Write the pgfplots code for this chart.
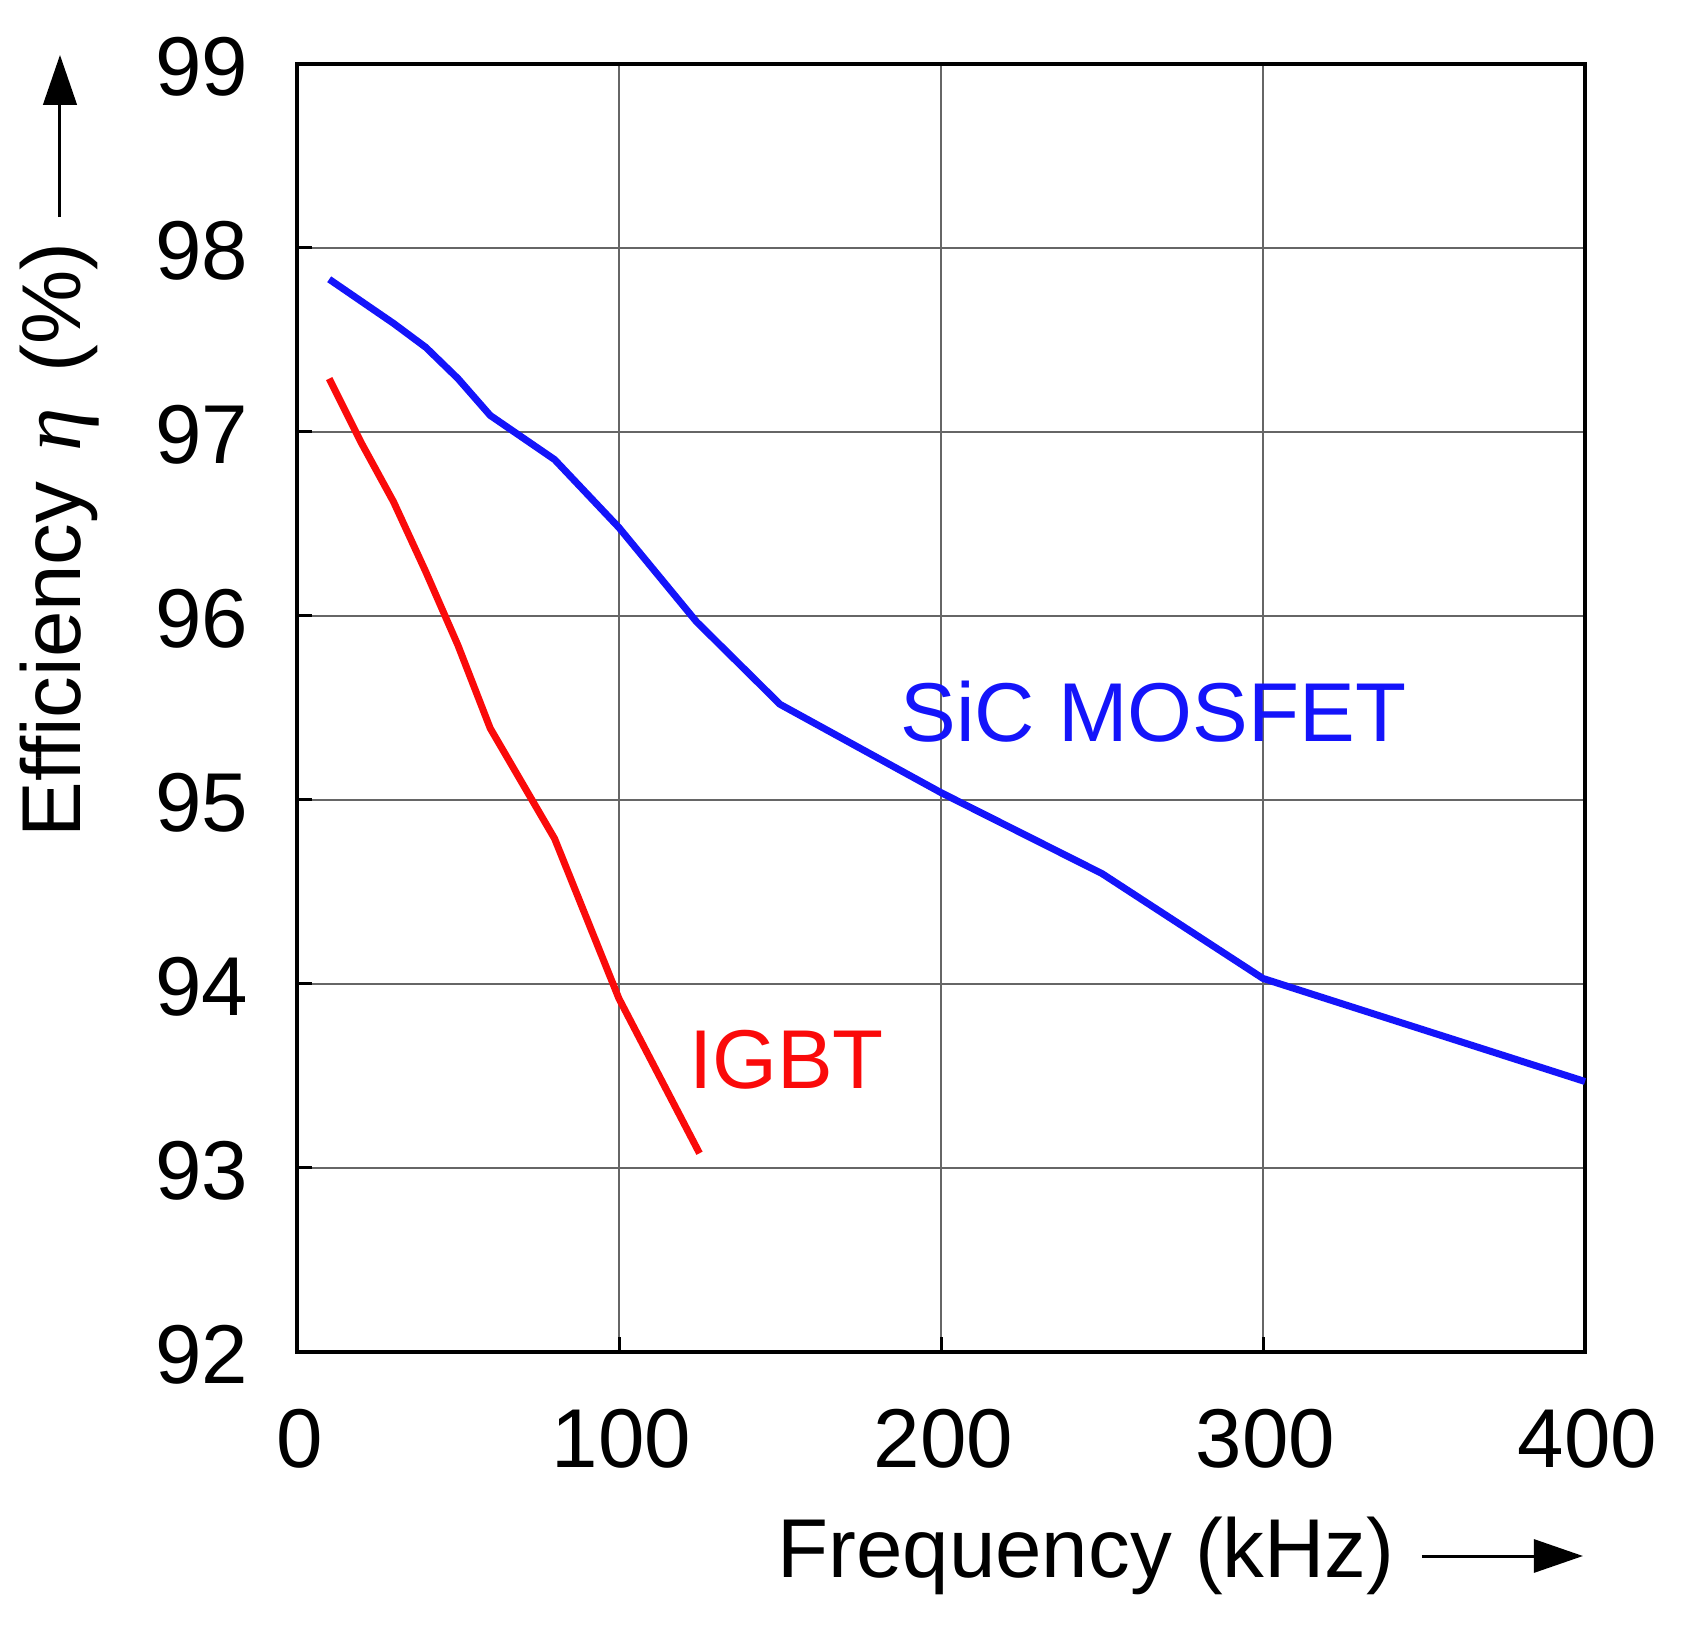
\documentclass[border=0pt]{standalone}
\usepackage{pgfplots}
\pgfplotsset{compat=1.18}
\usepackage{fontspec}
\setmainfont{Liberation Sans}
\newfontfamily\serifit{Liberation Serif}
\usetikzlibrary{arrows.meta}
\definecolor{sicblue}{RGB}{20,20,250}
\definecolor{igbtred}{RGB}{250,10,10}
\begin{document}
\begin{tikzpicture}
\useasboundingbox (-59.4pt,-58pt) rectangle (280.6pt,270.4pt);
\begin{axis}[
  at={(0pt,0pt)}, anchor=south west,
  width=257.6pt, height=257.6pt, scale only axis,
  xmin=0, xmax=400, ymin=92, ymax=99,
  xtick={0,100,200,300,400}, ytick={92,93,94,95,96,97,98,99},
  grid=major, major grid style={draw=black!60, line width=0.45pt},
  axis line style={line width=0.85pt, black},
  tick align=inside, xtick pos=left, ytick pos=left,
  major tick length=3pt, tick style={line width=0.6pt, black},
  ticklabel style={font=\fontsize{16.7}{20}\selectfont},
  /pgf/number format/assume math mode=true,
  xticklabel style={inner sep=0pt, anchor=north, yshift=-11.2pt, xshift=0.5pt},
  yticklabel style={inner sep=0pt, anchor=east, xshift=-9.6pt, yshift=-0.6pt},
  label style={font=\fontsize{16.7}{20}\selectfont, inner sep=0pt},
  xlabel={Frequency (kHz)},
  xlabel style={at={(axis description cs:0.6126,-0.1584)}, anchor=center},
  ylabel={Efficiency\hspace{0.08em} {\serifit\itshape\fontsize{17.5}{20}\selectfont η}\hspace{0.15em} (\%)},
  ylabel style={at={(axis description cs:-0.184,0.6304)}, anchor=center, rotate=0},
  clip=false,
]
\addplot[color=sicblue, line width=1.4pt] coordinates {
  (10,97.83) (30,97.59) (40,97.46) (50,97.29) (60,97.09) (80,96.85)
  (100,96.48) (124,95.97) (150,95.52) (200,95.04) (250,94.60) (300,94.03) (400,93.47)
};
\addplot[color=igbtred, line width=1.4pt] coordinates {
  (10,97.29) (20,96.94) (30,96.62) (40,96.24) (50,95.84) (60,95.39)
  (80,94.79) (100,93.92) (125,93.08)
};
\node[text=sicblue, font=\fontsize{16.7}{20}\selectfont, inner sep=0pt] at (axis cs:266,95.48) {SiC MOSFET};
\node[text=igbtred, font=\fontsize{16.7}{20}\selectfont, inner sep=0pt] at (axis cs:152,93.59) {IGBT};
\draw[line width=0.6pt, -{Triangle[length=9.8pt,width=6.6pt]}] (axis description cs:0.8734,-0.1584) -- (axis description cs:0.9984,-0.1584);
\draw[line width=0.6pt, -{Triangle[length=10pt,width=6.7pt]}] (axis description cs:-0.184,0.8812) -- (axis description cs:-0.184,1.007);
\end{axis}
\end{tikzpicture}
\end{document}
